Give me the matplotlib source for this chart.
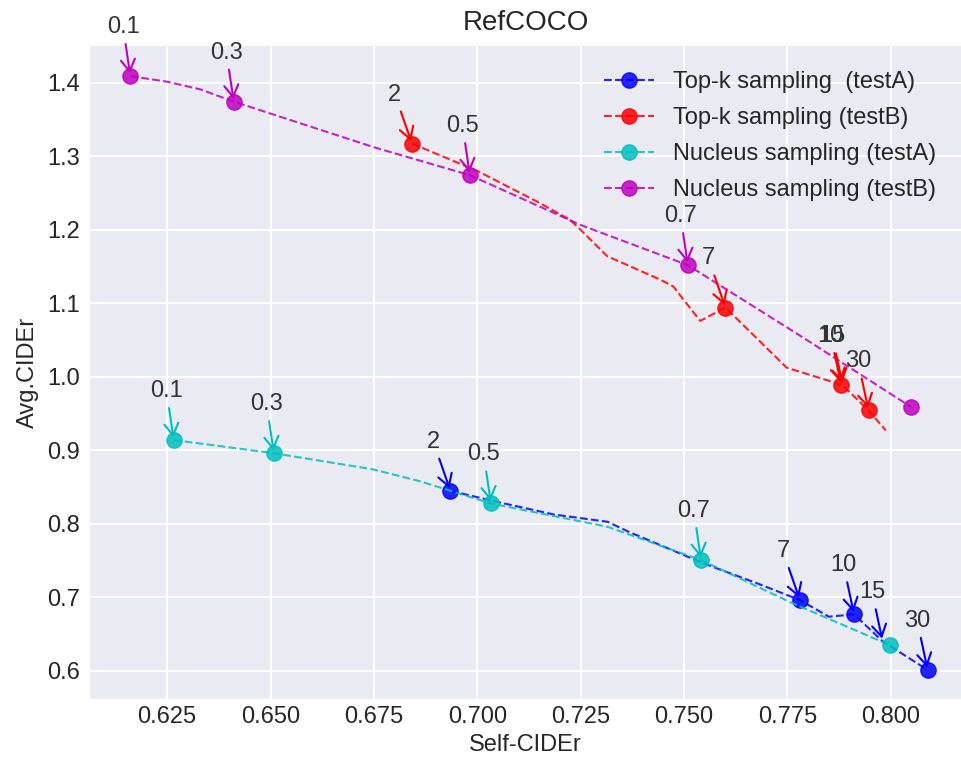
import matplotlib
matplotlib.use("Agg")
import matplotlib.pyplot as plt
import seaborn as sns

# ---------------- data ----------------
# Top-k sampling (testA)
topk_a_x = [0.6935, 0.7047, 0.7185, 0.7315, 0.7366, 0.7547, 0.7677, 0.7780, 0.7850, 0.7911, 0.7980, 0.8089]
topk_a_y = [0.8447, 0.8298, 0.8125, 0.8026, 0.7890, 0.7460, 0.7188, 0.6961, 0.6735, 0.6766, 0.6400, 0.6010]
topk_a_marks = [0, 7, 9, 11]
topk_a_labels = {"2": 0, "7": 7, "10": 9, "15": 10, "30": 11}

# Top-k sampling (testB)
topk_b_x = [0.6842, 0.7000, 0.7145, 0.7224, 0.7250, 0.7314, 0.7443, 0.7474, 0.7539, 0.7600, 0.7748, 0.7860, 0.7880, 0.7884, 0.7946, 0.7988]
topk_b_y = [1.3172, 1.2800, 1.2381, 1.2136, 1.1997, 1.1640, 1.1319, 1.1227, 1.0759, 1.0941, 1.0123, 0.9927, 0.9888, 0.9880, 0.9541, 0.9268]
topk_b_marks = [0, 9, 12, 14]
topk_b_labels = {"2": 0, "7": 9, "10": 12, "15": 13, "30": 14}

# Nucleus sampling (testA)
nuc_a_x = [0.6266, 0.6508, 0.6748, 0.6861, 0.7033, 0.7315, 0.7541, 0.7763, 0.7997]
nuc_a_y = [0.9138, 0.8959, 0.8739, 0.8578, 0.8275, 0.7958, 0.7505, 0.6916, 0.6349]
nuc_a_marks = [0, 1, 4, 6, 8]
nuc_a_labels = {"0.1": 0, "0.3": 1, "0.5": 4, "0.7": 6}

# Nucleus sampling (testB)
nuc_b_x = [0.6161, 0.6250, 0.6330, 0.6411, 0.6750, 0.6982, 0.7250, 0.7509, 0.7780, 0.8048]
nuc_b_y = [1.4090, 1.4014, 1.3910, 1.3743, 1.3122, 1.2742, 1.2064, 1.1518, 1.0560, 0.9591]
nuc_b_marks = [0, 3, 5, 7, 9]
nuc_b_labels = {"0.1": 0, "0.3": 3, "0.5": 5, "0.7": 7}

series = [
    ("Top-k sampling  (testA)", "b", topk_a_x, topk_a_y, topk_a_marks, topk_a_labels),
    ("Top-k sampling (testB)", "r", topk_b_x, topk_b_y, topk_b_marks, topk_b_labels),
    ("Nucleus sampling (testA)", "c", nuc_a_x, nuc_a_y, nuc_a_marks, nuc_a_labels),
    ("Nucleus sampling (testB)", "m", nuc_b_x, nuc_b_y, nuc_b_marks, nuc_b_labels),
]

# ---------------- style ----------------
sns.set_style("darkgrid")
plt.rcParams["font.family"] = ["Liberation Sans", "DejaVu Sans"]
plt.rcParams["text.color"] = ".15"
plt.rcParams["axes.labelcolor"] = ".15"
plt.rcParams["xtick.color"] = ".15"
plt.rcParams["ytick.color"] = ".15"

fig = plt.figure(figsize=(9.62, 7.67), dpi=100)
ax = fig.add_axes([0.0925, 0.0883, 0.9075, 0.853])
ax.grid(True, color="white", linewidth=1.5)

for label, color, xs, ys, marks, labels in series:
    ax.plot(xs, ys, linestyle="--", color=color, linewidth=1.5, marker="o",
            markersize=11, markevery=marks, alpha=0.85, label=label)
    for text, idx in labels.items():
        ax.annotate(text, xy=(xs[idx], ys[idx]), xytext=(-17, 31),
                    textcoords="offset points", fontsize=17, color=".2",
                    arrowprops=dict(arrowstyle="->,head_length=0.5,head_width=0.3",
                                    color=color, lw=1.5))

ax.set_xlim(0.6061, 0.8172)
ax.set_ylim(0.5611, 1.4513)
ax.set_xticks([0.625, 0.650, 0.675, 0.700, 0.725, 0.750, 0.775, 0.800])
ax.set_xticklabels(["0.625", "0.650", "0.675", "0.700", "0.725", "0.750", "0.775", "0.800"])
ax.set_yticks([0.6, 0.7, 0.8, 0.9, 1.0, 1.1, 1.2, 1.3, 1.4])
ax.set_yticklabels(["0.6", "0.7", "0.8", "0.9", "1.0", "1.1", "1.2", "1.3", "1.4"])
ax.tick_params(axis="x", labelsize=17, pad=5, length=0)
ax.tick_params(axis="y", labelsize=17, pad=6.5, length=0)

ax.set_xlabel("Self-CIDEr", fontsize=17)
ax.set_ylabel("Avg.CIDEr", fontsize=17, labelpad=6)
ax.set_title("RefCOCO", fontsize=20, pad=11)

ax.legend(loc="upper right", fontsize=17, frameon=False, handlelength=2.1,
          handletextpad=0.8, labelspacing=0.6, borderaxespad=0.7)

fig.savefig("out.png", dpi=100)
